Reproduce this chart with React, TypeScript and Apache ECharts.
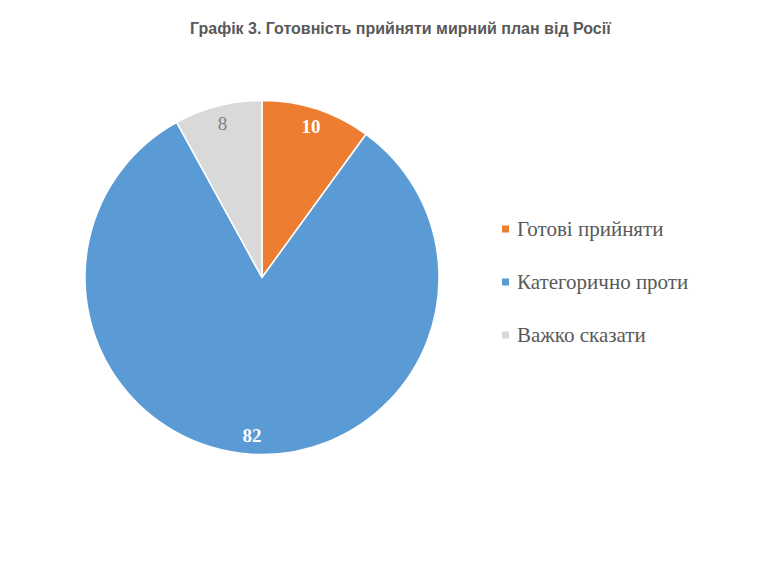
import React, { useEffect, useRef } from "react";
import * as echarts from "echarts";

const titleText = "Графік 3. Готовність прийняти мирний план від Росії";
const categories = ["Готові прийняти", "Категорично проти", "Важко сказати"];
const values = [10, 82, 8];
const colors = ["#ED7D31", "#5B9BD5", "#D9D9D9"];
const labelColors = ["#FFFFFF", "#FFFFFF", "#7F7F7F"];
const labelWeights = ["bold", "bold", "normal"];

export default function App() {
  const ref = useRef<HTMLDivElement>(null);
  useEffect(() => {
    if (!ref.current) return;
    const chart = echarts.init(ref.current, null, { renderer: "svg" });
    const center = [254, 269.5];
    const R = 177;
    chart.setOption({
      animation: false,
      backgroundColor: "#FFFFFF",
      title: {
        text: titleText,
        left: 177,
        top: 7,
        textStyle: {
          fontFamily: "Liberation Sans, Arial, sans-serif",
          fontSize: 16,
          fontWeight: "bold",
          color: "#595959",
        },
      },
      legend: {
        orient: "vertical",
        left: 487,
        top: 205,
        itemWidth: 9,
        itemHeight: 9,
        itemGap: 31,
        icon: "rect",
        data: categories,
        selectedMode: false,
        textStyle: {
          fontFamily: "Liberation Serif, Times New Roman, serif",
          fontSize: 21,
          lineHeight: 22,
          color: "#595959",
          padding: [0, 0, 0, 2],
        },
      },
      series: [
        {
          type: "pie",
          center,
          radius: [0, R],
          startAngle: 90,
          clockwise: true,
          label: { show: false },
          labelLine: { show: false },
          emphasis: { disabled: true },
          itemStyle: { borderColor: "#FFFFFF", borderWidth: 1.5 },
          data: categories.map((name, i) => ({
            name,
            value: values[i],
            itemStyle: { color: colors[i] },
          })),
        },
        {
          type: "pie",
          center,
          radius: [R * 0.76, R],
          startAngle: 90,
          clockwise: true,
          silent: true,
          labelLine: { show: false },
          emphasis: { disabled: true },
          itemStyle: { color: "rgba(0,0,0,0)", borderWidth: 0 },
          data: categories.map((name, i) => ({
            name,
            value: values[i],
            itemStyle: { color: "rgba(0,0,0,0)" },
            label: {
              show: true,
              position: "inside",
              formatter: "{c}",
              fontFamily: "Liberation Serif, Times New Roman, serif",
              fontSize: 19,
              fontWeight: labelWeights[i],
              color: labelColors[i],
            },
          })),
        },
      ],
    });
    return () => chart.dispose();
  }, []);
  return <div ref={ref} style={{ width: 748, height: 562 }} />;
}
